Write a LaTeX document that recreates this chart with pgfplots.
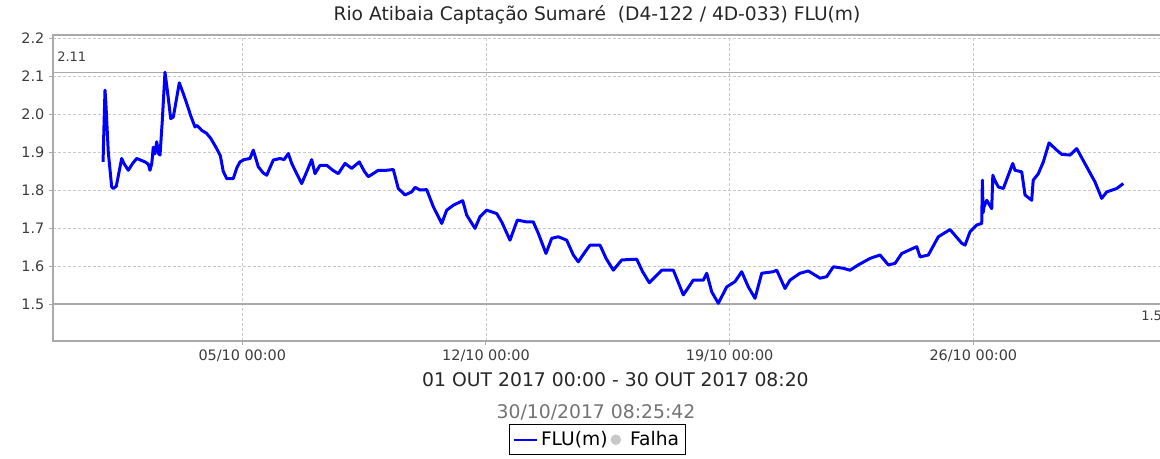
\documentclass[border=0pt]{standalone}
\usepackage{pgfplots}
\pgfplotsset{compat=1.18}
\usepackage{fontspec}
\setmainfont{DejaVu Sans}
\newlength\px
\setlength\px{0.75pt}
\definecolor{flublue}{RGB}{0,0,255}
\definecolor{axgray}{RGB}{170,170,170}
\definecolor{gridgray}{RGB}{200,200,200}
\definecolor{ticktext}{RGB}{60,60,60}
\definecolor{falhagray}{RGB}{200,200,200}
\begin{document}
\begin{tikzpicture}
\useasboundingbox (0,0) rectangle (1160\px,459\px);
\begin{axis}[
  at={(53\px,118\px)}, anchor=south west,
  scale only axis, width=1117\px, height=306\px,
  xmin=-0.438, xmax=31.65, ymin=1.4027, ymax=2.208,
  axis line style={axgray, line width=1.3\px},
  tick style={axgray, line width=1\px},
  tick align=outside, major tick length=4\px,
  xtick={5,12,19,26},
  xticklabels={05/10 00:00,12/10 00:00,19/10 00:00,26/10 00:00},
  ytick={1.5,1.6,1.7,1.8,1.9,2.0,2.1,2.2},
  yticklabel style={/pgf/number format/.cd, fixed, fixed zerofill, precision=1, assume math mode=true},
  ticklabel style={font=\fontsize{10.8}{12}\selectfont, text=ticktext},
  xtick pos=bottom, ytick pos=left,
  grid=major,
  major grid style={gridgray, dash pattern=on 2.5\px off 2.5\px, line width=0.8\px},
  clip=false,
  legend columns=2,
  legend style={at={(axis description cs:0.4874,-0.2712)}, anchor=north,
    draw=black, line width=0.9\px, font=\fontsize{14}{15}\selectfont,
    inner xsep=3\px, inner ysep=4.5\px,
    nodes={inner xsep=3\px}},
  legend cell align=left,
]
\addplot[axgray, line width=1.4\px, forget plot] coordinates {(-0.438,2.11) (31.65,2.11)};
\addplot[axgray, line width=1.4\px, forget plot] coordinates {(-0.438,1.5) (31.65,1.5)};
\addplot[flublue, line width=3\px, line join=round,
  legend image code/.code={\draw[flublue, line width=2.2\px] (0,0) -- (23\px,0);}] coordinates {
(1.00,1.874) (1.03,1.98) (1.056,2.063) (1.08,2.03) (1.15,1.90) (1.248,1.808) (1.294,1.804) (1.38,1.81)
(1.535,1.883) (1.60,1.870) (1.725,1.852) (1.85,1.870) (1.966,1.883) (2.10,1.878) (2.205,1.874) (2.30,1.868) (2.348,1.852) (2.40,1.87) (2.443,1.913)
(2.49,1.895) (2.541,1.927) (2.60,1.895) (2.636,1.892) (2.70,1.98) (2.779,2.11) (2.85,2.06)
(2.943,1.988) (3.018,1.992) (3.190,2.082) (3.30,2.055) (3.403,2.028) (3.52,1.995) (3.641,1.966) (3.70,1.970) (3.834,1.957) (3.977,1.949)
(4.10,1.935) (4.265,1.909) (4.37,1.890) (4.45,1.85) (4.552,1.830) (4.741,1.830) (4.85,1.860) (4.934,1.874) (5.05,1.880) (5.221,1.883) (5.316,1.905)
(5.460,1.861) (5.60,1.845) (5.701,1.839) (5.891,1.879) (6.083,1.883) (6.20,1.880) (6.321,1.896) (6.42,1.870) (6.514,1.852) (6.706,1.817)
(6.850,1.848) (6.994,1.880) (7.088,1.843) (7.232,1.865) (7.425,1.865) (7.60,1.852) (7.758,1.843) (7.950,1.870)
(8.143,1.857) (8.361,1.874) (8.50,1.850) (8.620,1.835) (8.907,1.852) (9.148,1.852) (9.338,1.854) (9.481,1.804)
(9.674,1.787) (9.866,1.795) (9.961,1.807) (10.105,1.800) (10.297,1.801) (10.487,1.756) (10.728,1.712)
(10.872,1.747) (11.061,1.760) (11.332,1.772) (11.446,1.734) (11.685,1.699) (11.828,1.730) (12.021,1.747)
(12.308,1.738) (12.452,1.716) (12.690,1.668) (12.900,1.721) (13.170,1.716) (13.360,1.716) (13.503,1.686)
(13.724,1.633) (13.888,1.673) (14.078,1.677) (14.319,1.668) (14.509,1.629) (14.652,1.611) (14.845,1.637)
(14.989,1.655) (15.276,1.655) (15.45,1.620) (15.658,1.589) (15.899,1.616) (16.330,1.618) (16.50,1.585) (16.692,1.556) (17.048,1.589)
(17.382,1.589) (17.669,1.524) (17.956,1.563) (18.243,1.563) (18.341,1.581) (18.485,1.532) (18.674,1.502)
(18.916,1.545) (19.154,1.559) (19.346,1.585) (19.536,1.545) (19.728,1.515) (19.921,1.581) (20.254,1.585)
(20.352,1.589) (20.590,1.541) (20.734,1.563) (21.021,1.581) (21.260,1.587) (21.596,1.568) (21.788,1.572)
(21.978,1.598) (22.265,1.594) (22.458,1.589) (22.696,1.603) (23.032,1.620) (23.320,1.629) (23.558,1.603)
(23.751,1.607) (23.943,1.633) (24.374,1.651) (24.469,1.624) (24.707,1.629) (24.994,1.677) (25.330,1.696)
(25.667,1.660) (25.761,1.655) (25.905,1.690) (26.097,1.708) (26.241,1.712) (26.26,1.826) (26.28,1.74)
(26.307,1.756) (26.385,1.773) (26.528,1.751) (26.56,1.839) (26.594,1.830) (26.718,1.808) (26.862,1.804)
(27.132,1.870) (27.198,1.852) (27.390,1.848) (27.485,1.787) (27.677,1.773) (27.72,1.826) (27.867,1.843)
(28.011,1.874) (28.174,1.924) (28.395,1.905) (28.539,1.894) (28.778,1.892) (28.970,1.909) (29.257,1.861)
(29.496,1.821) (29.688,1.778) (29.832,1.795) (30.119,1.804) (30.309,1.817)
};
\addlegendentry{FLU(m)\hspace{6\px}}
\addlegendimage{legend image code/.code={\fill[falhagray] (4.5\px,0) circle (4.8\px);}}
\addlegendentry{\hspace{6\px}Falha}
\end{axis}
\node[anchor=base west, inner sep=0pt, font=\fontsize{9.75}{11}\selectfont, text=ticktext] at (57\px,459\px-62\px) {2.11};
\node[anchor=base west, inner sep=0pt, font=\fontsize{9.75}{11}\selectfont, text=ticktext] at (1141\px,459\px-321\px) {1.5};
\node[anchor=base, inner sep=0pt, font=\fontsize{14}{15}\selectfont, text=black!85] at (597\px,459\px-20.5\px) {Rio Atibaia Captação Sumaré \ (D4-122 / 4D-033) FLU(m)};
\node[anchor=base, inner sep=0pt, font=\fontsize{14.1}{15}\selectfont, text=black!85] at (615.5\px,459\px-386.7\px) {01 OUT 2017 00:00 - 30 OUT 2017 08:20};
\node[anchor=base, inner sep=0pt, font=\fontsize{14.1}{15}\selectfont, text=black!55] at (596\px,459\px-418.3\px) {30/10/2017 08:25:42};
\end{tikzpicture}
\end{document}
